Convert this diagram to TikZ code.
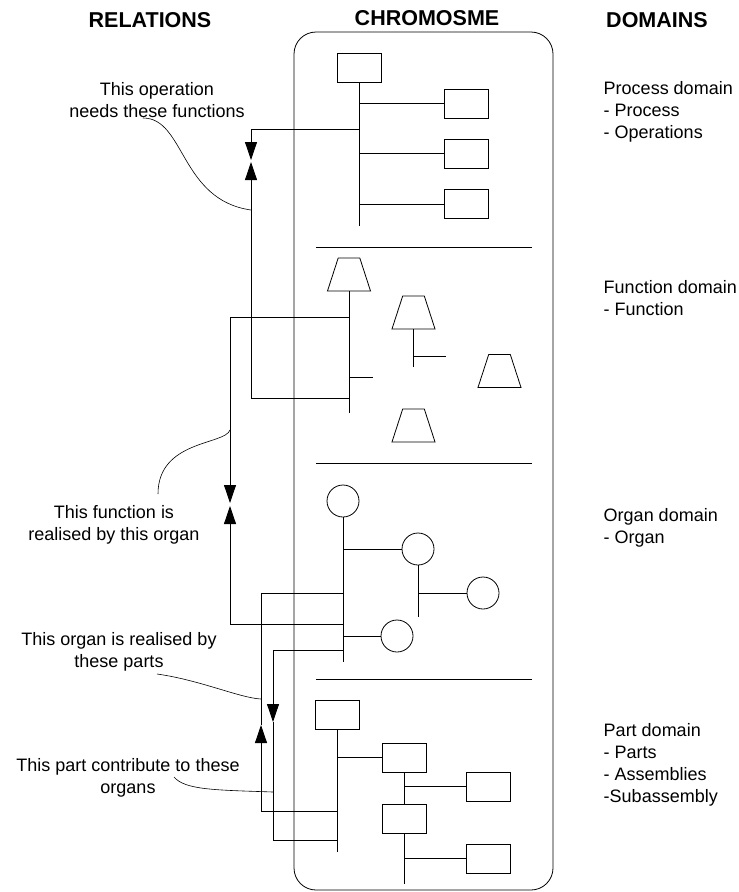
\documentclass[tikz,border=0pt]{standalone}
\usepackage{fontspec}
\setmainfont{Liberation Sans}
\usetikzlibrary{arrows.meta,shapes.geometric}

\begin{document}
\begin{tikzpicture}[
        x=1pt, y=-1pt,
        >={Triangle[length=18pt,width=12pt]},
        line width=0.8pt,
        part/.style={draw, minimum width=44pt, minimum height=29pt, inner sep=0pt},
        func/.style={draw, trapezium, trapezium angle=72,
            inner xsep=10.8pt, inner ysep=16.5pt},
        organ/.style={draw, circle, minimum size=32pt, inner sep=0pt},
        heading/.style={font=\bfseries\fontsize{21.5}{25}\selectfont, anchor=base},
        note/.style={font=\fontsize{18}{22}\selectfont, align=center, anchor=base},
        domlabel/.style={font=\fontsize{18}{22}\selectfont, align=left, anchor=base west}
    ]
    \useasboundingbox (0,0) rectangle (739,892);

    % column headings
    \node[heading] (hrel) at (150,27) {RELATIONS};
    \node[heading] (hchr) at (427,25) {CHROMOSME};
    \node[heading] (hdom) at (657,27) {DOMAINS};

    % chromosome frame and domain dividers
    \node[draw, rounded corners=22pt, minimum width=259pt, minimum height=858pt,
        inner sep=0pt] (chrom) at (423.5,461) {};
    \foreach \y in {247,463,679}
        \draw (316,\y) -- (532,\y);

    % process domain
    \node[part] (p0) at (359,67.5) {};
    \node[part] (p1) at (466.5,103.5) {};
    \node[part] (p2) at (466.5,153.5) {};
    \node[part] (p3) at (466.5,204) {};
    \draw (p0.south) -- (359,226);
    \foreach \n in {p1,p2,p3}
        \draw (p0.south |- \n.west) -- (\n.west);

    % function domain
    \node[func] (f0) at (349,274.5) {};
    \node[func] (f1) at (413.5,312.5) {};
    \node[func] (f2) at (499.5,371) {};
    \node[func] (f3) at (413.5,425.5) {};
    \draw (f0.south) -- (349,413);
    \draw (f0.south |- 0,377) -- (373,377);
    \draw (f1.south) -- (413.5,367);
    \draw (f1.south |- 0,356) -- (446,356);

    % organ domain
    \node[organ] (o0) at (343,501) {};
    \node[organ] (o1) at (418,549) {};
    \node[organ] (o2) at (483,593) {};
    \node[organ] (o3) at (397,636) {};
    \draw (o0.south) -- (343,662);
    \draw (o0.south |- o1.west) -- (o1.west);
    \draw (o1.south) -- (418,617);
    \draw (o1.south |- o2.west) -- (o2.west);
    \draw (o0.south |- o3.west) -- (o3.west);

    % part domain
    \node[part] (a0) at (337.5,715) {};
    \node[part] (a1) at (404,757.5) {};
    \node[part] (a2) at (404,818.5) {};
    \node[part] (a3) at (488.5,786.5) {};
    \node[part] (a4) at (488.5,858.5) {};
    \draw (a0.south) -- (337.5,852);
    \draw (a0.south |- a1.west) -- (a1.west);
    \draw (a1.south) -- (a2.north);
    \draw (a1.south |- a3.west) -- (a3.west);
    \draw (a2.south) -- (404,884);
    \draw (a2.south |- a4.west) -- (a4.west);

    % relation links
    \coordinate (pf1) at (251,160);
    \coordinate (pf2) at (251,162);
    \coordinate (fo1) at (230,503);
    \coordinate (fo2) at (230,506);
    \coordinate (oa1) at (273,722);
    \coordinate (oa2) at (261,725);
    \draw[->] (p0.south |- 0,129) -| (pf1);
    \draw[->] (f0.south |- 0,398) -| (pf2);
    \draw[->] (f0.south |- 0,317) -| (fo1);
    \draw[->] (o0.south |- 0,624) -| (fo2);
    \draw[->] (o0.south |- 0,650) -| (oa1);
    \draw (oa1) |- (a0.south |- 0,840);
    \draw[->] (a0.south |- 0,811) -| (oa2);
    \draw (oa2) |- (o0.south |- 0,593);

    % relation notes
    \node[note] (n1) at (157,117) {This operation\\needs these functions};
    \node[note] (n2) at (114,540) {This function is\\realised by this organ};
    \node[note] (n3) at (119,667) {This organ is realised by\\these parts};
    \node[note] (n4) at (128,793) {This part contribute to these\\organs};
    \draw[line width=0.6pt] (143,118) .. controls (185,118) and (180,200) .. (251,210);
    \draw[line width=0.6pt] (230,430) .. controls (225,445) and (158,440) .. (158,494);
    \draw[line width=0.6pt] (157,674) .. controls (200,680) and (240,698) .. (261,699);
    \draw[line width=0.6pt] (174,777) .. controls (185,790) and (215,790) .. (273,792);

    % domain names
    \node[domlabel] (d1) at (600,138) {Process domain\\- Process\\- Operations};
    \node[domlabel] (d2) at (600,315) {Function domain\\- Function};
    \node[domlabel] (d3) at (600,543) {Organ domain\\- Organ};
    \node[domlabel] (d4) at (600,802) {Part domain\\- Parts\\- Assemblies\\-Subassembly};
\end{tikzpicture}
\end{document}
